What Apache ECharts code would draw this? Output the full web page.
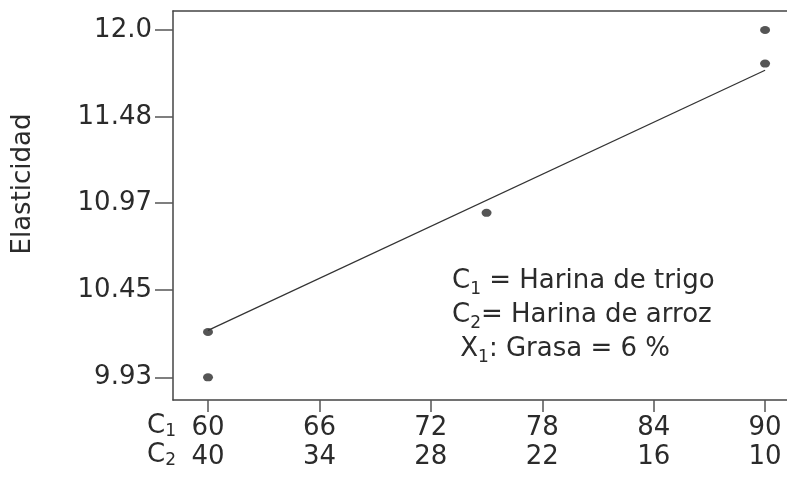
<!DOCTYPE html>
<html lang="es">
<head>
    <meta charset="UTF-8">
    <title>Elasticidad</title>
    <style>
        html, body { margin: 0; padding: 0; background: #fff; }
        #main { width: 787px; height: 477px; }
    </style>
</head>
<body>
   <div id="main"></div>
   <script src="https://cdn.jsdelivr.net/npm/echarts@6/dist/echarts.min.js"></script>
   <script>
    // datos
    var c1Ticks = [60, 66, 72, 78, 84, 90];
    var c2Ticks = [40, 34, 28, 22, 16, 10];
    var yTicks = [9.93, 10.45, 10.97, 11.48, 12.0];
    var yTickLabels = ['9.93', '10.45', '10.97', '11.48', '12.0'];
    var pointsX = [60, 60, 75, 90, 90];
    var pointsY = [10.20, 9.93, 10.91, 12.0, 11.80];
    var fitX = [60, 90];
    var fitY = [10.21, 11.76];

    var font = 'DejaVu Sans';
    var ink = '#2b2b2b';

    var myChart = echarts.init(document.getElementById('main'));

    var points = pointsX.map(function (x, i) { return [x, pointsY[i]]; });
    var fit = fitX.map(function (x, i) { return [x, fitY[i]]; });

    // estilos para texto con subindice (zrender usa fill)
    var richText = {
        n: { fontFamily: font, fontSize: 26, lineHeight: 34, fill: ink },
        s: { fontFamily: font, fontSize: 17, lineHeight: 18, fill: ink, verticalAlign: 'bottom' }
    };

    var axisLineStyle = { color: '#444', width: 1.5 };

    option = {
        animation: false,
        grid: {
            left: 173,
            top: 11,
            right: 0,
            bottom: 77
        },
        xAxis: [
            {
                type: 'value',
                min: 58.115,
                max: 91.18,
                splitLine: { show: false },
                axisLine: { lineStyle: axisLineStyle },
                axisTick: {
                    customValues: c1Ticks,
                    length: 12,
                    lineStyle: { color: '#555', width: 1.5 }
                },
                axisLabel: {
                    customValues: c1Ticks,
                    margin: 14,
                    fontFamily: font,
                    fontSize: 26,
                    lineHeight: 29,
                    color: ink,
                    formatter: function (v) {
                        var i = c1Ticks.indexOf(v);
                        return v + '\n' + c2Ticks[i];
                    }
                }
            },
            {
                // solo la linea superior del marco
                type: 'value',
                position: 'top',
                min: 58.115,
                max: 91.18,
                splitLine: { show: false },
                axisLine: { lineStyle: axisLineStyle },
                axisTick: { show: false },
                axisLabel: { show: false }
            }
        ],
        yAxis: {
            type: 'value',
            min: 9.7947,
            max: 12.1132,
            splitLine: { show: false },
            axisLine: { lineStyle: axisLineStyle },
            axisTick: {
                customValues: yTicks,
                length: 18,
                lineStyle: { color: '#555', width: 1.5 }
            },
            axisLabel: {
                customValues: yTicks,
                margin: 21,
                fontFamily: font,
                fontSize: 26,
                color: ink,
                formatter: function (v) {
                    for (var i = 0; i < yTicks.length; i++) {
                        if (Math.abs(yTicks[i] - v) < 1e-6) return yTickLabels[i];
                    }
                    return '';
                }
            }
        },
        graphic: [
            {
                type: 'text', x: 23, y: 184, rotation: Math.PI / 2,
                style: { text: 'Elasticidad', font: '26px ' + font, fill: ink, align: 'center', verticalAlign: 'middle' }
            },
            {
                type: 'text', left: 147, top: 413,
                style: {
                    text: '{n|C}{s|1}\n{n|C}{s|2}',
                    rich: {
                        n: { fontFamily: font, fontSize: 26, lineHeight: 29, fill: ink },
                        s: { fontFamily: font, fontSize: 17, lineHeight: 16, fill: ink, verticalAlign: 'bottom' }
                    }
                }
            },
            {
                type: 'text', left: 452, top: 268,
                style: {
                    text: '{n|C}{s|1}{n| = Harina de trigo}\n{n|C}{s|2}{n|= Harina de arroz}\n{n| X}{s|1}{n|: Grasa = 6 %}',
                    rich: richText
                }
            }
        ],
        series: [
            {
                name: 'ajuste',
                type: 'line',
                data: fit,
                symbol: 'none',
                lineStyle: { color: '#333', width: 1.3 }
            },
            {
                name: 'elasticidad',
                type: 'scatter',
                data: points,
                symbol: 'circle',
                symbolSize: [10, 8],
                itemStyle: { color: '#2a2a2a' }
            }
        ]
    };
    myChart.setOption(option);
   </script>
</body>
</html>
